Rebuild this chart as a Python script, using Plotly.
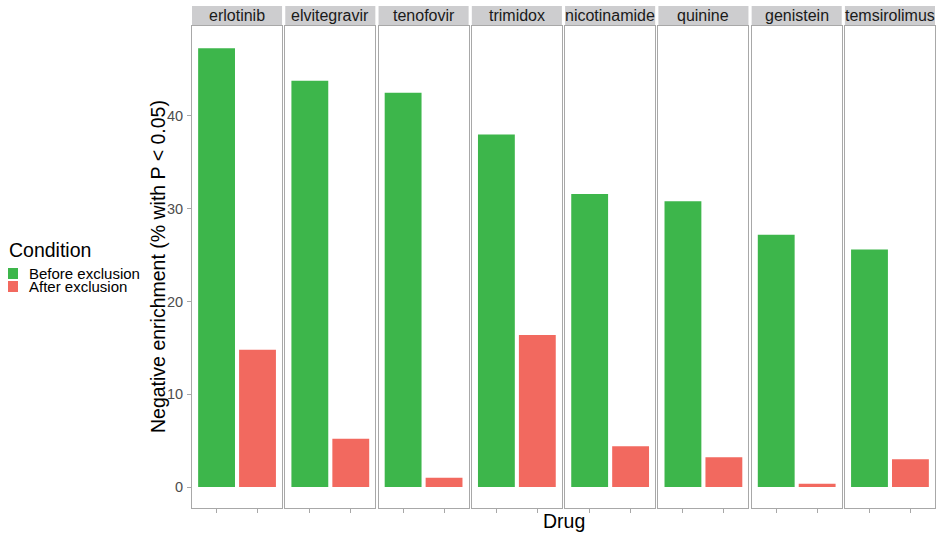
import plotly.graph_objects as go

# Drugs and percentage of negatively enriched hits (P < 0.05)
drugs = ["erlotinib", "elvitegravir", "tenofovir", "trimidox",
         "nicotinamide", "quinine", "genistein", "temsirolimus"]
conditions = ["Before exclusion", "After exclusion"]
before_exclusion = [47.3, 43.8, 42.5, 38.0, 31.6, 30.8, 27.2, 25.6]
after_exclusion = [14.8, 5.2, 1.0, 16.4, 4.4, 3.2, 0.35, 3.0]
y_ticks = [0, 10, 20, 30, 40]

colors = {"Before exclusion": "#3DB64B", "After exclusion": "#F2695F"}
FONT = "Liberation Sans, Arial, sans-serif"
BORDER = "#A8A8A8"
STRIP = "#CDCDCF"

W, H = 941, 533
ML, MR, MT, MB = 192, 6, 6, 25
plot_w = W - ML - MR
plot_h = H - MT - MB
strip_h = 20
y_top = 1 - strip_h / plot_h

n = len(drugs)
gap_px = 3.2
panel_w = (plot_w - gap_px * (n - 1)) / n

fig = go.Figure()
layout = {}
for i, drug in enumerate(drugs):
    x0 = round((i * (panel_w + gap_px)) / plot_w, 6)
    x1 = min(1.0, round((i * (panel_w + gap_px) + panel_w) / plot_w, 6))
    ax = "" if i == 0 else str(i + 1)
    xa, ya = "x" + ax, "y" + ax
    values = {"Before exclusion": before_exclusion[i], "After exclusion": after_exclusion[i]}
    for cond in conditions:
        fig.add_trace(go.Bar(
            x=[cond], y=[values[cond]], width=0.9,
            marker=dict(color=colors[cond], line=dict(width=0)),
            name=cond, showlegend=False, xaxis=xa, yaxis=ya,
        ))
    layout["xaxis" + ax] = dict(
        domain=[x0, x1], anchor=ya, type="category",
        categoryorder="array", categoryarray=conditions,
        range=[-0.6, 1.6], showticklabels=False,
        ticks="outside", ticklen=4, tickcolor=BORDER, tickwidth=1,
        showline=True, linecolor=BORDER, linewidth=1, mirror=True,
        showgrid=False, zeroline=False, fixedrange=True,
    )
    layout["yaxis" + ax] = dict(
        domain=[0, y_top], anchor=xa, range=[-2.26, 49.7],
        tickvals=y_ticks, showticklabels=(i == 0),
        ticks="outside" if i == 0 else "", ticklen=4, tickcolor=BORDER,
        ticklabelstandoff=1,
        tickfont=dict(size=14.5, color="#4D4D4D", family=FONT),
        showline=True, linecolor=BORDER, linewidth=1, mirror=True,
        showgrid=False, zeroline=False,
    )
    # facet strip
    fig.add_shape(type="rect", xref="paper", yref="paper",
                  x0=x0, x1=x1, y0=y_top, y1=1,
                  fillcolor=STRIP, line=dict(width=0), layer="below")
    fig.add_annotation(text=drug, xref="paper", yref="paper",
                       x=(x0 + x1) / 2, y=(y_top + 1) / 2,
                       xanchor="center", yanchor="middle", showarrow=False,
                       font=dict(size=16, color="#1A1A1A", family=FONT))


def px(xp):
    return (xp - ML) / plot_w


def py(yp):
    return (H - MB - yp) / plot_h


# axis titles
fig.add_annotation(text="Negative enrichment (% with P < 0.05)",
                   xref="paper", yref="paper", x=px(158), y=py(267),
                   xanchor="center", yanchor="middle", textangle=-90,
                   showarrow=False,
                   font=dict(size=19.5, color="black", family=FONT))
fig.add_annotation(text="Drug", xref="paper", yref="paper",
                   x=0.5, y=py(521), xanchor="center", yanchor="middle",
                   showarrow=False, font=dict(size=19.5, color="black", family=FONT))

# legend
fig.add_annotation(text="Condition", xref="paper", yref="paper",
                   x=px(7), y=py(250), xanchor="left", yanchor="middle",
                   showarrow=False, font=dict(size=19.5, color="black", family=FONT))
for k, cond in enumerate(conditions):
    yc = 273.5 + 13 * k
    fig.add_shape(type="rect", xref="paper", yref="paper",
                  x0=px(8), x1=px(18), y0=py(yc - 5.5), y1=py(yc + 5.5),
                  fillcolor=colors[cond], line=dict(width=0))
    fig.add_annotation(text=cond, xref="paper", yref="paper",
                       x=px(27), y=py(yc), xanchor="left", yanchor="middle",
                       showarrow=False,
                       font=dict(size=15, color="black", family=FONT))

fig.update_layout(
    width=W, height=H,
    margin=dict(l=ML, r=MR, t=MT, b=MB, pad=0),
    paper_bgcolor="white", plot_bgcolor="white",
    barmode="overlay", showlegend=False,
    font=dict(family=FONT),
    **layout,
)

fig.write_html("out.html", config={"displayModeBar": False})
